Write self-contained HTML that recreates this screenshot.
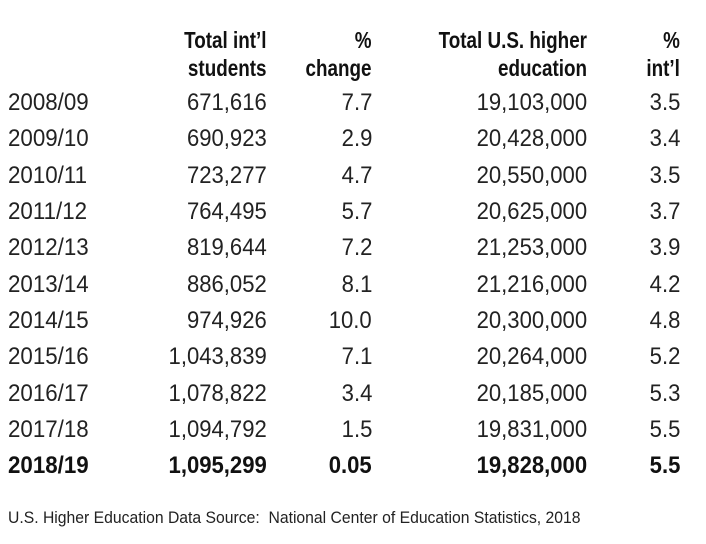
<!DOCTYPE html>
<html><head><meta charset="utf-8"><style>
html,body{margin:0;padding:0;background:#fff;width:706px;height:544px;overflow:hidden}
body{position:relative;font-family:"Liberation Sans",sans-serif;color:#222}
.r{position:absolute;height:30px;line-height:30px;font-size:24px;white-space:nowrap}
.r span{position:absolute;top:0}
.y{left:8px;transform:scaleX(0.93);transform-origin:left center}
.c1,.c2,.c3,.c4{transform:scaleX(0.92);transform-origin:right center}
.c1{right:439px}.c2{right:334px}.c3{right:119px}.c4{right:26px}
.h{position:absolute;font-weight:bold;font-size:23px;line-height:28px;text-align:right;color:#111;transform:scaleX(0.82);transform-origin:right top;white-space:nowrap}
.b{font-weight:bold;color:#111}
.f{position:absolute;left:8px;top:508px;font-size:17px;white-space:nowrap;transform:scaleX(0.925);transform-origin:left top}
</style></head><body>
<div class="h" style="right:439px;top:26px">Total int’l<br>students</div>
<div class="h" style="right:334px;top:26px">%<br>change</div>
<div class="h" style="right:119px;top:26px">Total U.S. higher<br>education</div>
<div class="h" style="right:26px;top:26px">%<br>int’l</div>

<div class="r" style="top:88px;width:706px"><span class="y">2008/09</span><span class="c1">671,616</span><span class="c2">7.7</span><span class="c3">19,103,000</span><span class="c4">3.5</span></div>
<div class="r" style="top:124px;width:706px"><span class="y">2009/10</span><span class="c1">690,923</span><span class="c2">2.9</span><span class="c3">20,428,000</span><span class="c4">3.4</span></div>
<div class="r" style="top:161px;width:706px"><span class="y">2010/11</span><span class="c1">723,277</span><span class="c2">4.7</span><span class="c3">20,550,000</span><span class="c4">3.5</span></div>
<div class="r" style="top:197px;width:706px"><span class="y">2011/12</span><span class="c1">764,495</span><span class="c2">5.7</span><span class="c3">20,625,000</span><span class="c4">3.7</span></div>
<div class="r" style="top:233px;width:706px"><span class="y">2012/13</span><span class="c1">819,644</span><span class="c2">7.2</span><span class="c3">21,253,000</span><span class="c4">3.9</span></div>
<div class="r" style="top:270px;width:706px"><span class="y">2013/14</span><span class="c1">886,052</span><span class="c2">8.1</span><span class="c3">21,216,000</span><span class="c4">4.2</span></div>
<div class="r" style="top:306px;width:706px"><span class="y">2014/15</span><span class="c1">974,926</span><span class="c2">10.0</span><span class="c3">20,300,000</span><span class="c4">4.8</span></div>
<div class="r" style="top:342px;width:706px"><span class="y">2015/16</span><span class="c1">1,043,839</span><span class="c2">7.1</span><span class="c3">20,264,000</span><span class="c4">5.2</span></div>
<div class="r" style="top:379px;width:706px"><span class="y">2016/17</span><span class="c1">1,078,822</span><span class="c2">3.4</span><span class="c3">20,185,000</span><span class="c4">5.3</span></div>
<div class="r" style="top:415px;width:706px"><span class="y">2017/18</span><span class="c1">1,094,792</span><span class="c2">1.5</span><span class="c3">19,831,000</span><span class="c4">5.5</span></div>
<div class="r b" style="top:451px;width:706px"><span class="y">2018/19</span><span class="c1">1,095,299</span><span class="c2">0.05</span><span class="c3">19,828,000</span><span class="c4">5.5</span></div>

<div class="f">U.S. Higher Education Data Source:&nbsp; National Center of Education Statistics, 2018</div>
</body></html>
